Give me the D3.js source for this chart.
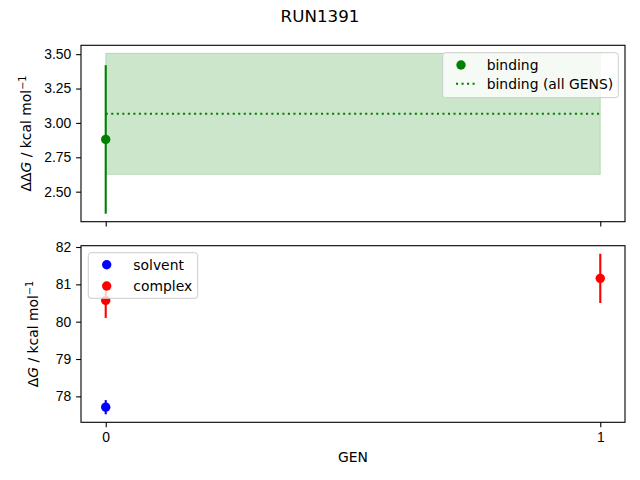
<!DOCTYPE html>
<html>
<head>
<meta charset="utf-8">
<script src="https://cdn.jsdelivr.net/npm/d3@7"></script>
<style>
  body { margin: 0; background: #fff; }
  svg { font-family: "DejaVu Sans", sans-serif; }
  .tick text { font-size: 13.9px; fill: #000; }
  .tick line, .domain { stroke: #000; stroke-width: 1.1px; }
</style>
</head>
<body>
<div id="chart"></div>
<script>
// values
const gens = [0, 1];
const bindingGens = [0];
const bindingValues = [2.88];
const bindingErrors = [0.54];
const bindingAllMean = 3.066;
const bindingAllError = 0.44;
const solventGens = [0];
const solventValues = [77.71];
const solventErrors = [0.19];
const complexGens = [0, 1];
const complexValues = [80.57, 81.16];
const complexErrors = [0.47, 0.66];
const topTicks = [2.50, 2.75, 3.00, 3.25, 3.50];
const bottomTicks = [78, 79, 80, 81, 82];

const width = 640, height = 480;
const left = 81, right = 625;
const top1 = 45.3, bottom1 = 221.7;
const top2 = 245.7, bottom2 = 422.3;
const tickLen = 4.86;
const dotR = 4.7;

const svg = d3.select("#chart").append("svg")
    .attr("width", width)
    .attr("height", height);

// matplotlib-like 5% margins
function padded(lo, hi) {
  const m = (hi - lo) * 0.05;
  return [lo - m, hi + m];
}

const x = d3.scaleLinear().domain(padded(0, 1)).range([left, right]);

const topLo = d3.min([d3.min(bindingValues, (d, i) => d - bindingErrors[i]), bindingAllMean - bindingAllError]);
const topHi = d3.max([d3.max(bindingValues, (d, i) => d + bindingErrors[i]), bindingAllMean + bindingAllError]);
const y1 = d3.scaleLinear().domain(padded(topLo, topHi)).range([bottom1, top1]);

const allLo = solventValues.map((d, i) => d - solventErrors[i]).concat(complexValues.map((d, i) => d - complexErrors[i]));
const allHi = solventValues.map((d, i) => d + solventErrors[i]).concat(complexValues.map((d, i) => d + complexErrors[i]));
const y2 = d3.scaleLinear().domain(padded(d3.min(allLo), d3.max(allHi))).range([bottom2, top2]);

// title
svg.append("text")
    .attr("x", 320).attr("y", 22)
    .attr("text-anchor", "middle")
    .attr("font-size", "16.7px")
    .text("RUN1391");

// ---------- top panel ----------
const g1 = svg.append("g");

g1.append("rect")
    .attr("x", x(0)).attr("width", x(1) - x(0))
    .attr("y", y1(bindingAllMean + bindingAllError))
    .attr("height", y1(bindingAllMean - bindingAllError) - y1(bindingAllMean + bindingAllError))
    .attr("fill", "green").attr("fill-opacity", 0.2)
    .attr("stroke", "green").attr("stroke-opacity", 0.2).attr("stroke-width", 1);

g1.append("line")
    .attr("x1", x(0)).attr("x2", x(1))
    .attr("y1", y1(bindingAllMean)).attr("y2", y1(bindingAllMean))
    .attr("stroke", "green").attr("stroke-width", 2.08)
    .attr("stroke-dasharray", "2.08,3.44");

g1.selectAll("line.err").data(bindingGens).join("line")
    .attr("class", "err")
    .attr("x1", d => x(d)).attr("x2", d => x(d))
    .attr("y1", (d, i) => y1(bindingValues[i] - bindingErrors[i]))
    .attr("y2", (d, i) => y1(bindingValues[i] + bindingErrors[i]))
    .attr("stroke", "green").attr("stroke-width", 2.1);

g1.selectAll("circle").data(bindingGens).join("circle")
    .attr("cx", d => x(d))
    .attr("cy", (d, i) => y1(bindingValues[i]))
    .attr("r", dotR).attr("fill", "green");

g1.append("g").attr("transform", `translate(${left},0)`)
    .call(d3.axisLeft(y1).tickValues(topTicks).tickFormat(d3.format(".2f")).tickSize(tickLen).tickPadding(4.86))
    .call(g => g.select(".domain").remove());
g1.append("g").attr("transform", `translate(0,${bottom1})`)
    .call(d3.axisBottom(x).tickValues(gens).tickFormat("").tickSize(tickLen))
    .call(g => g.select(".domain").remove());

g1.append("rect")
    .attr("x", left).attr("y", top1)
    .attr("width", right - left).attr("height", bottom1 - top1)
    .attr("fill", "none").attr("stroke", "#000").attr("stroke-width", 1.1);

const lab1 = g1.append("text")
    .attr("transform", `translate(31,${(top1 + bottom1) / 2}) rotate(-90)`)
    .attr("text-anchor", "middle").attr("font-size", "13.9px");
lab1.append("tspan").text("ΔΔ");
lab1.append("tspan").attr("font-style", "italic").text("G");
lab1.append("tspan").text(" / kcal mol");
lab1.append("tspan").attr("dy", -5).attr("font-size", "9.7px").text("−1");

// top legend
const leg1 = g1.append("g");
leg1.append("rect")
    .attr("x", 442.7).attr("y", 52.7).attr("width", 175.6).attr("height", 45)
    .attr("rx", 2.8)
    .attr("fill", "#fff").attr("fill-opacity", 0.8)
    .attr("stroke", "#ccc").attr("stroke-width", 1);
leg1.append("circle").attr("cx", 461).attr("cy", 65).attr("r", dotR).attr("fill", "green");
leg1.append("line")
    .attr("x1", 456).attr("x2", 475).attr("y1", 83.7).attr("y2", 83.7)
    .attr("stroke", "green").attr("stroke-width", 2.08).attr("stroke-dasharray", "2.08,3.44");
leg1.append("text").attr("x", 486.7).attr("y", 70).attr("font-size", "13.9px").text("binding");
leg1.append("text").attr("x", 486.7).attr("y", 89).attr("font-size", "13.9px").text("binding (all GENS)");

// ---------- bottom panel ----------
const g2 = svg.append("g");

function drawSeries(gs, values, errors, color) {
  const s = g2.append("g");
  s.selectAll("line").data(gs).join("line")
      .attr("x1", d => x(d)).attr("x2", d => x(d))
      .attr("y1", (d, i) => y2(values[i] - errors[i]))
      .attr("y2", (d, i) => y2(values[i] + errors[i]))
      .attr("stroke", color).attr("stroke-width", 2.1);
  s.selectAll("circle").data(gs).join("circle")
      .attr("cx", d => x(d))
      .attr("cy", (d, i) => y2(values[i]))
      .attr("r", dotR).attr("fill", color);
}
drawSeries(solventGens, solventValues, solventErrors, "blue");
drawSeries(complexGens, complexValues, complexErrors, "red");

g2.append("g").attr("transform", `translate(${left},0)`)
    .call(d3.axisLeft(y2).tickValues(bottomTicks).tickFormat(d3.format("d")).tickSize(tickLen).tickPadding(4.86))
    .call(g => g.select(".domain").remove());
g2.append("g").attr("transform", `translate(0,${bottom2})`)
    .call(d3.axisBottom(x).tickValues(gens).tickFormat(d3.format("d")).tickSize(tickLen).tickPadding(4.86))
    .call(g => g.select(".domain").remove());

g2.append("rect")
    .attr("x", left).attr("y", top2)
    .attr("width", right - left).attr("height", bottom2 - top2)
    .attr("fill", "none").attr("stroke", "#000").attr("stroke-width", 1.1);

const lab2 = g2.append("text")
    .attr("transform", `translate(38,${(top2 + bottom2) / 2}) rotate(-90)`)
    .attr("text-anchor", "middle").attr("font-size", "13.9px");
lab2.append("tspan").text("Δ");
lab2.append("tspan").attr("font-style", "italic").text("G");
lab2.append("tspan").text(" / kcal mol");
lab2.append("tspan").attr("dy", -5).attr("font-size", "9.7px").text("−1");

g2.append("text")
    .attr("x", (left + right) / 2).attr("y", 462)
    .attr("text-anchor", "middle").attr("font-size", "13.9px")
    .text("GEN");

// bottom legend
const leg2 = g2.append("g");
leg2.append("rect")
    .attr("x", 88.3).attr("y", 252.7).attr("width", 109.4).attr("height", 45.6)
    .attr("rx", 2.8)
    .attr("fill", "#fff").attr("fill-opacity", 0.8)
    .attr("stroke", "#ccc").attr("stroke-width", 1);
leg2.append("circle").attr("cx", 106.7).attr("cy", 264.7).attr("r", dotR).attr("fill", "blue");
leg2.append("circle").attr("cx", 106.7).attr("cy", 286).attr("r", dotR).attr("fill", "red");
leg2.append("text").attr("x", 133.3).attr("y", 269.5).attr("font-size", "13.9px").text("solvent");
leg2.append("text").attr("x", 133.3).attr("y", 291).attr("font-size", "13.9px").text("complex");
</script>
</body>
</html>
